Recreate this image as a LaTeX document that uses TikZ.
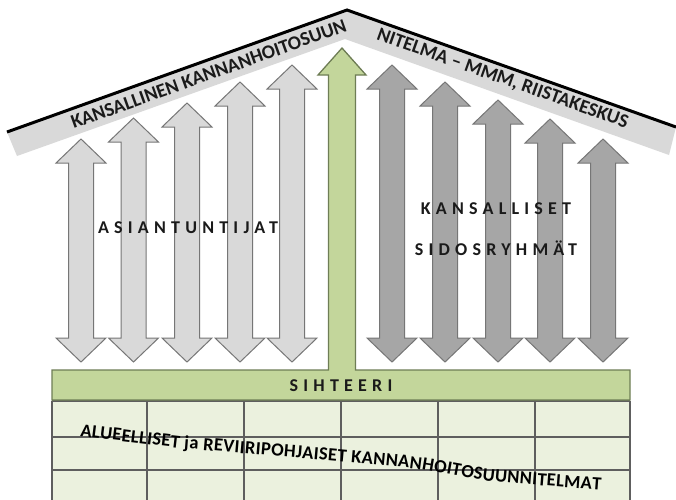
\documentclass[tikz,border=0pt]{standalone}
\usepackage{fontspec}
\setmainfont{Carlito}
\newfontfamily\spacedfont[LetterSpace=29]{Carlito}
\usetikzlibrary{decorations.text}
\definecolor{lightfill}{HTML}{D9D9D9}
\definecolor{darkfill}{HTML}{A6A6A6}
\definecolor{arrowline}{HTML}{767676}
\definecolor{greenfill}{HTML}{C3D69B}
\definecolor{greenline}{HTML}{6E7D55}
\definecolor{cellfill}{HTML}{EBF1DE}
\definecolor{gridline}{HTML}{5E5E5E}
\definecolor{bandfill}{HTML}{D9D9D9}
\definecolor{textcol}{HTML}{1A1A1A}
\newcommand\dblarrow[3]{%
  \draw[#1] (#2,#3) -- ++(25,24) -- ++(-12.5,0) -- (#2+12.5,338) -- ++(12.5,0)
    -- (#2,362) -- (#2-25,338) -- ++(12.5,0) -- (#2-12.5,#3+24) -- ++(-12.5,0) -- cycle;}
\newcommand\tabfont{\fontsize{18.5}{18.5}\selectfont\bfseries}
\begin{document}
\begin{tikzpicture}[x=1pt,y=-1pt,
  lightarrow/.style={fill=lightfill, draw=arrowline, line width=1pt, line join=miter},
  darkarrow/.style={fill=darkfill, draw=arrowline, line width=1pt, line join=miter},
  greenshape/.style={fill=greenfill, draw=greenline, line width=1.3pt, line join=miter},
  roofband/.style={fill=bandfill},
  roofline/.style={draw=black, line width=3pt, line join=miter},
  gridstyle/.style={draw=gridline, line width=2.2pt},
  rooftext/.style={font=\fontsize{19.5}{19.5}\selectfont\bfseries, text=textcol, inner sep=0pt},
  spacedtext/.style={font=\spacedfont\fontsize{18}{18}\selectfont\bfseries, text=textcol, inner sep=0pt}]
\useasboundingbox (0,0) rectangle (676,499);
\clip (0,0) rectangle (676,499);
\fill[white] (0,0) rectangle (676,499);

% table
\fill[cellfill] (52,401) rectangle (630,510);
\foreach \yy in {401,437,470} \draw[gridstyle] (52,\yy) -- (630,\yy);
\foreach \xx in {52,147,244,341,438,535,630} \draw[gridstyle] (\xx,401) -- (\xx,510);
\path[decorate, decoration={text along path,
   text={|\tabfont|ALUEELLISET ja REVIIRIPOHJAISET KANNANHOITOSUUNNITELMAT},
   text align={fit to path}}]
   plot[smooth] coordinates {(80,436) (170,447) (203,450) (346,462) (417,469) (490,481) (601,490)};

% roof
\fill[roofband] (7,132) -- (347,10) -- (676,127) -- (669,155) -- (345,39) -- (17,156) -- cycle;
\draw[roofline] (7,132) -- (347,10) -- (676,127);
\node[rooftext, rotate=19.7] (roofL) at (208.5,74) {KANSALLINEN KANNANHOITOSUUN};
\node[rooftext, rotate=-19.6] (roofR) at (502.5,79) {NITELMA – MMM, RIISTAKESKUS};

% left arrows
\dblarrow{lightarrow}{81}{139}
\dblarrow{lightarrow}{133.5}{118}
\dblarrow{lightarrow}{187}{103}
\dblarrow{lightarrow}{240}{82}
\dblarrow{lightarrow}{292}{65}
% right arrows
\dblarrow{darkarrow}{392}{65}
\dblarrow{darkarrow}{445}{82}
\dblarrow{darkarrow}{498}{100}
\dblarrow{darkarrow}{550}{119}
\dblarrow{darkarrow}{603}{139}

% green T
\draw[greenshape] (342,48) -- (366,75) -- (355.5,75) -- (355.5,370) -- (630,370) -- (630,400)
  -- (52,400) -- (52,370) -- (328.5,370) -- (328.5,75) -- (318,75) -- cycle;

% labels
\node[spacedtext] (asi) at (188,228) {ASIANTUNTIJAT};
\node[spacedtext] (kans) at (496,209) {KANSALLISET};
\node[spacedtext] (sido) at (496,248) {SIDOSRYHMÄT};
\node[spacedtext] (siht) at (341,386) {SIHTEERI};
\end{tikzpicture}
\end{document}
